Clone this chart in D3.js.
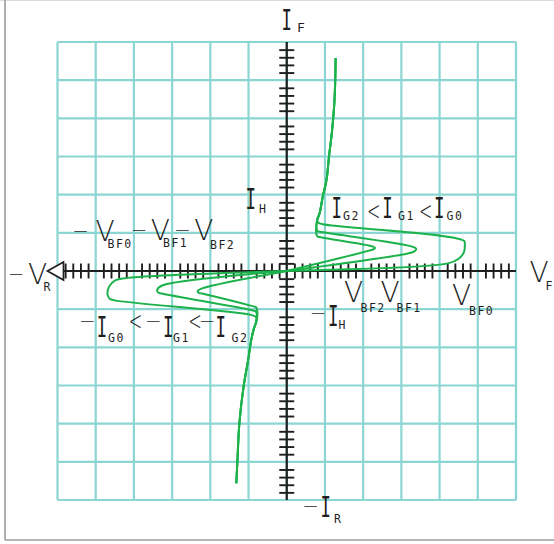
<!DOCTYPE html>
<html>
<head>
<meta charset="utf-8">
<script src="https://cdn.jsdelivr.net/npm/d3@7/dist/d3.min.js"></script>
<style>
  html, body { margin: 0; padding: 0; background: #fff; }
  svg { display: block; }
</style>
</head>
<body>
<script>
// Thyristor I–V characteristic: forward breakover for three gate currents
// and the matching reverse branch, drawn on a 12 × 12 division graticule.

const gridDivisions = d3.range(-6, 7);                       // major graticule lines
const minorTicks = d3.range(-30, 31)
  .filter(i => i % 5 !== 0)
  .map(i => i / 5);                                           // 5 sub-divisions per division

// Forward branch, [V, I] in divisions
const onStateForward = [[0.86, 1.51], [0.94, 1.94], [1.04, 2.38], [1.11, 3.04],
                        [1.18, 3.62], [1.25, 4.48], [1.28, 5.58]];
const forwardIG0 = [[0, 0], [4.22, 0.20], [4.50, 0.32], [4.64, 0.50], [4.66, 0.68],
                    [4.64, 0.79], [0.92, 1.23], [0.81, 1.28], [0.80, 1.38]];
const forwardIG1 = [[0, 0], [3.17, 0.46], [3.33, 0.51], [3.39, 0.57], [3.34, 0.62],
                    [0.92, 1.02], [0.80, 1.05], [0.78, 1.15], [0.79, 1.30]];
const forwardIG2 = [[0, 0], [2.21, 0.55], [2.29, 0.58], [2.31, 0.61], [2.26, 0.64],
                    [0.92, 0.88], [0.80, 0.91], [0.77, 1.00], [0.77, 1.15], [0.79, 1.30]];

// Reverse branch, [V, I] in divisions
const onStateReverse = [[-0.86, -1.51], [-0.93, -1.81], [-1.01, -2.33], [-1.13, -3.03],
                        [-1.24, -3.99], [-1.29, -4.95], [-1.32, -5.56]];
const reverseIG0 = [[0, 0], [-4.15, -0.18], [-4.50, -0.25], [-4.65, -0.41], [-4.69, -0.62],
                    [-4.63, -0.73], [-4.50, -0.77], [-0.94, -1.15], [-0.81, -1.20], [-0.79, -1.32]];
const reverseIG1 = [[0, 0], [-3.26, -0.38], [-3.39, -0.49], [-3.37, -0.56], [-3.27, -0.59],
                    [-0.95, -1.02], [-0.81, -1.06], [-0.78, -1.16], [-0.80, -1.32]];
const reverseIG2 = [[0, 0], [-2.23, -0.46], [-2.33, -0.52], [-2.31, -0.57], [-2.22, -0.59],
                    [-0.90, -0.92], [-0.80, -0.95], [-0.77, -1.05], [-0.77, -1.18], [-0.80, -1.33]];

const W = 554, H = 544;
const INK = "#1f1f1f", GRID = "#7fd2ce", TRACE = "#1db24c";
const SANS = "DejaVu Sans", MONO = "DejaVu Sans Mono";

const svg = d3.select("body").append("svg")
  .attr("width", W).attr("height", H);

// page frame
svg.append("line").attr("x1", 0).attr("x2", W).attr("y1", 0.5).attr("y2", 0.5)
  .attr("stroke", "#dcdcdc").attr("stroke-width", 1);
svg.append("line").attr("x1", 5).attr("x2", 5).attr("y1", 0).attr("y2", 540)
  .attr("stroke", "#9c9c9c").attr("stroke-width", 1.6);
svg.append("line").attr("x1", 5).attr("x2", W).attr("y1", 540).attr("y2", 540)
  .attr("stroke", "#9c9c9c").attr("stroke-width", 1.6);

const x = d3.scaleLinear().domain([-6, 6]).range([57.5, 516]);
const y = d3.scaleLinear().domain([-6, 6]).range([500, 42]);

// graticule
const grid = svg.append("g").attr("stroke", GRID).attr("stroke-width", 2.2).attr("opacity", 0.9);
grid.selectAll("line.v").data(gridDivisions).join("line").attr("class", "v")
  .attr("x1", d => x(d)).attr("x2", d => x(d))
  .attr("y1", y(6)).attr("y2", y(-6));
grid.selectAll("line.h").data(gridDivisions).join("line").attr("class", "h")
  .attr("y1", d => y(d)).attr("y2", d => y(d))
  .attr("x1", x(-6)).attr("x2", x(6));

// axes through the origin with symmetric sub-division ticks
const TICK = 15;
const xAxis = svg.append("g")
  .attr("transform", `translate(0,${y(0)})`)
  .call(d3.axisBottom(x).tickValues(minorTicks).tickSize(TICK).tickFormat(""));
xAxis.select(".domain").remove();
xAxis.selectAll(".tick line").attr("y1", -TICK / 2).attr("y2", TICK / 2)
  .attr("stroke", INK).attr("stroke-width", 1.9);

const yAxis = svg.append("g")
  .attr("transform", `translate(${x(0)},0)`)
  .call(d3.axisLeft(y).tickValues(minorTicks).tickSize(TICK).tickFormat(""));
yAxis.select(".domain").remove();
yAxis.selectAll(".tick line").attr("x1", -TICK / 2).attr("x2", TICK / 2)
  .attr("stroke", INK).attr("stroke-width", 1.9);

const x0 = x.range()[0];
svg.append("line")
  .attr("x1", x0 + 6).attr("x2", x(6)).attr("y1", y(0)).attr("y2", y(0))
  .attr("stroke", INK).attr("stroke-width", 2.2);
svg.append("line")
  .attr("x1", x(0)).attr("x2", x(0)).attr("y1", y(6)).attr("y2", y(-6))
  .attr("stroke", INK).attr("stroke-width", 2.2);
// open arrowhead on the negative voltage end
svg.append("path")
  .attr("d", `M${x0 + 6},${y(0) - 9}L${x0 - 10},${y(0)}L${x0 + 6},${y(0) + 9}Z`)
  .attr("fill", "#fff").attr("stroke", INK).attr("stroke-width", 1.7);

// characteristic traces
const line = d3.line()
  .x(d => x(d[0])).y(d => y(d[1]))
  .curve(d3.curveCatmullRom.alpha(0.5));
const traces = [
  forwardIG0.concat(onStateForward),
  forwardIG1.concat(onStateForward),
  forwardIG2.concat(onStateForward),
  reverseIG0.concat(onStateReverse),
  reverseIG1.concat(onStateReverse),
  reverseIG2.concat(onStateReverse)
];
svg.append("g").selectAll("path").data(traces).join("path")
  .attr("d", line)
  .attr("fill", "none").attr("stroke", TRACE).attr("stroke-width", 2)
  .attr("stroke-linejoin", "round");

// annotation glyphs; sx narrows a glyph horizontally about its anchor
function glyph(txt, cx, base, size, family, anchor = "middle", sx = 1) {
  return svg.append("text")
    .attr("transform", `translate(${cx},${base}) scale(${sx},1)`)
    .attr("font-family", family).attr("font-size", size)
    .attr("text-anchor", anchor).attr("fill", INK)
    .text(txt);
}
const bigI = (cx, base) => glyph("I", cx, base, 28, MONO, "middle", 0.62);
const bigV = (cx, base) => glyph("V", cx, base, 28, SANS).attr("font-weight", 200);
const minus = (cx, cy) => glyph("−", cx, cy + 7, 20, SANS).attr("font-weight", 200);
const lessThan = (cx, base) => glyph("<", cx, base, 26, SANS, "middle", 0.62).attr("font-weight", 200);
const sub = (txt, xl, base, size = 11.5) =>
  glyph(txt, xl, base, size, MONO, "start").attr("letter-spacing", 1.5);

// current axis
bigI(286.7, 30);   sub("F", 297, 32.3, 13);
bigI(325.7, 516.5); minus(310.6, 506); sub("R", 334, 523);
// voltage axis
bigV(539.2, 281.7); sub("F", 545.5, 290);
bigV(37.5, 284);    minus(16, 274.3); sub("R", 43.5, 291);
// holding current
bigI(250.7, 209.3); sub("H", 259, 213.3);
bigI(333.3, 325.7); minus(318, 313.3); sub("H", 338.5, 329);
// forward breakover voltages
bigV(353.7, 301.7); sub("BF2", 360.5, 312.3);
bigV(390, 302);     sub("BF1", 396.5, 312);
bigV(461.7, 305);   sub("BF0", 469, 315);
// reverse breakover voltages
minus(80.7, 230.7);  bigV(105, 241);   sub("BF0", 107.5, 248.3);
minus(139.2, 229.5); bigV(160.3, 240); sub("BF1", 163, 246.7);
minus(182.3, 229.5); bigV(203.8, 240); sub("BF2", 210, 249);
// gate current ordering
bigI(336.7, 218.3); sub("G2", 343, 220);
lessThan(373.8, 220);
bigI(387.5, 218.3); sub("G1", 398, 220);
lessThan(425.8, 220);
bigI(439.2, 218.3); sub("G0", 446.5, 220);

minus(87.3, 321);  bigI(102, 336.7);   sub("G0", 108, 341.7);
lessThan(135.5, 330);
minus(153.3, 321); bigI(168.3, 336.7); sub("G1", 173, 341.7);
lessThan(195, 330);
minus(207.2, 321); bigI(220.8, 336.7); sub("G2", 231.5, 341.7);
</script>
</body>
</html>
